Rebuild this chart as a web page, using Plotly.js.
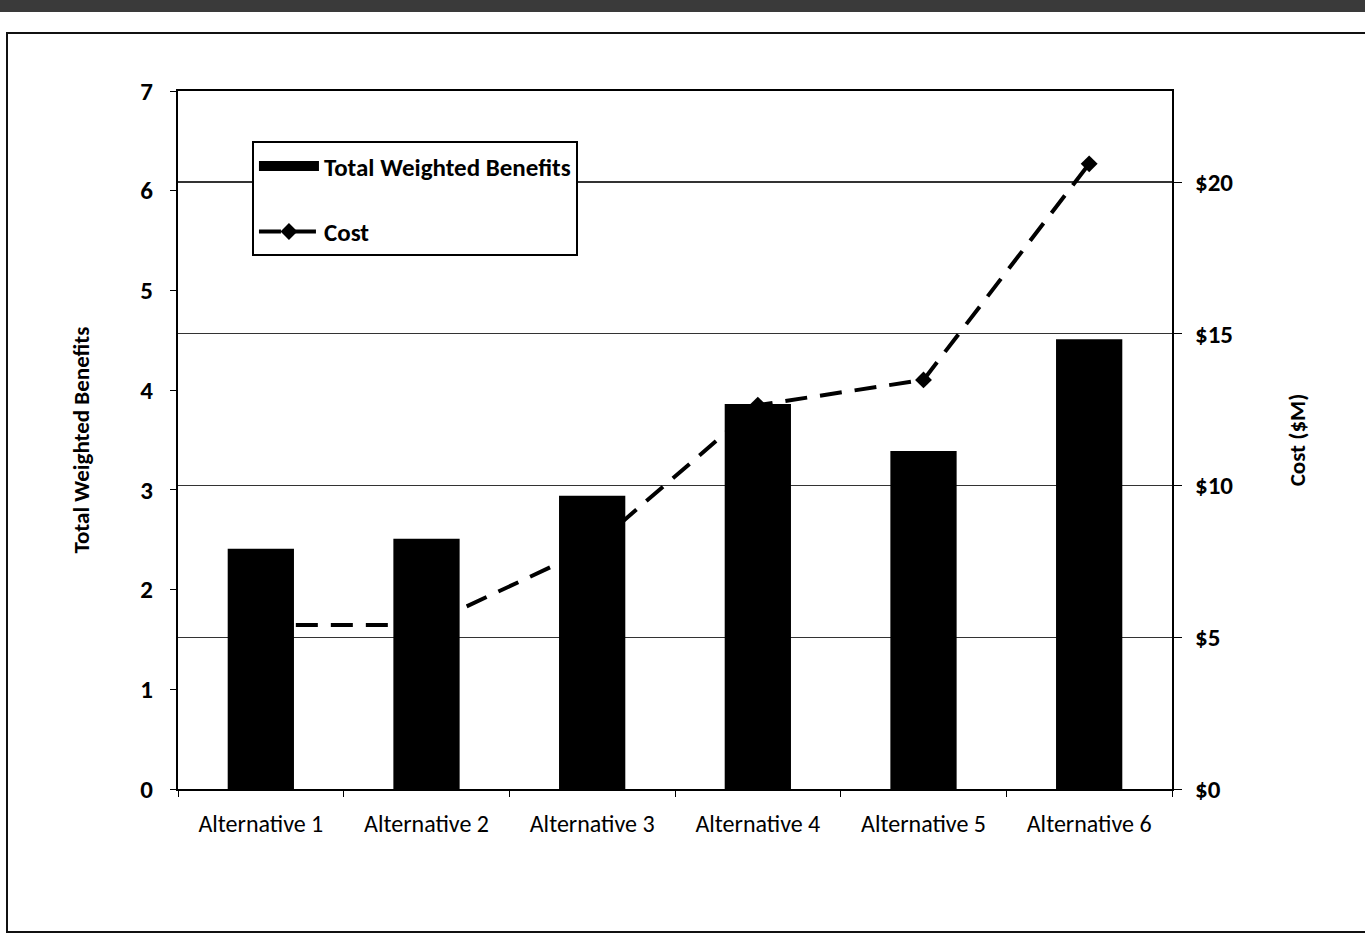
<!DOCTYPE html>
<html>
<head>
<meta charset="utf-8">
<script src="https://cdn.plot.ly/plotly-3.0.1.min.js"></script>
<style>
  html, body { margin:0; padding:0; background:#fff; width:1365px; height:936px; overflow:hidden; }
  #band { position:absolute; left:0; top:0; width:1365px; height:12px; background:#3a3a3a; }
  #frame { position:absolute; left:6px; top:32px; width:1380px; height:901px; border:2px solid #111; box-sizing:border-box; }
  #chart { position:absolute; left:0; top:0; width:1365px; height:936px; }
  #chart .legend .traces { opacity: 1 !important; }
</style>
</head>
<body>
<div id="band"></div>
<div id="frame"></div>
<div id="chart"></div>
<script>
const categories = ["Alternative 1", "Alternative 2", "Alternative 3", "Alternative 4", "Alternative 5", "Alternative 6"];
const benefits = [2.41, 2.51, 2.94, 3.86, 3.39, 4.51];
const costs = [5.4, 5.4, 7.95, 12.65, 13.48, 20.6];
const benefitTicks = [0, 1, 2, 3, 4, 5, 6, 7];
const costTicks = [0, 5, 10, 15, 20];
const costTickLabels = ["$0", "$5", "$10", "$15", "$20"];

const FONT = "Carlito, Lato, 'Open Sans', sans-serif";

const traces = [
  {
    type: "scatter", mode: "lines", name: "Total Weighted Benefits",
    x: categories, y: benefits, xaxis: "x", yaxis: "y2",
    visible: "legendonly", legendgroup: "a",
    line: { color: "#000", width: 11 }
  },
  {
    type: "scatter", mode: "lines+markers", name: "Cost",
    x: categories, y: costs, xaxis: "x", yaxis: "y",
    legendgroup: "b",
    line: { color: "#000", width: 4, dash: "22px,13px" },
    marker: { symbol: "diamond", size: 13, color: "#000" }
  },
  {
    type: "bar", name: "Total Weighted Benefits",
    x: categories, y: benefits, xaxis: "x", yaxis: "y2",
    showlegend: false,
    marker: { color: "#000" }
  }
];

const layout = {
  width: 1365, height: 936,
  paper_bgcolor: "rgba(0,0,0,0)", plot_bgcolor: "rgba(0,0,0,0)",
  margin: { l: 178, r: 193, t: 91, b: 147 },
  bargap: 0.6,
  showlegend: true,
  font: { family: FONT, color: "#000" },
  xaxis: {
    type: "category", tickson: "boundaries",
    showline: true, linecolor: "#000", linewidth: 2, mirror: true,
    ticks: "outside", ticklen: 6, tickcolor: "#000",
    ticklabelstandoff: 12,
    tickfont: { size: 24, family: FONT, color: "#000" },
    showgrid: false, zeroline: false
  },
  yaxis: {
    side: "right", range: [0, 23],
    tickvals: costTicks, ticktext: costTickLabels,
    showline: true, linecolor: "#000", linewidth: 2,
    ticks: "outside", ticklen: 8, tickcolor: "#000",
    ticklabelstandoff: 8,
    tickfont: { size: 25, family: FONT, color: "#000", weight: "bold" },
    showgrid: true, gridcolor: "#333", gridwidth: 1.3,
    zeroline: false,
    title: { text: "Cost ($M)", font: { size: 23, family: FONT, color: "#000", weight: "bold" }, standoff: 57 }
  },
  yaxis2: {
    side: "left", overlaying: "y", range: [0, 7],
    tickvals: benefitTicks,
    showline: true, linecolor: "#000", linewidth: 2,
    ticks: "outside", ticklen: 6, tickcolor: "#000",
    ticklabelstandoff: 12,
    tickfont: { size: 25, family: FONT, color: "#000", weight: "bold" },
    showgrid: false, zeroline: false,
    title: { text: "Total Weighted Benefits", font: { size: 23, family: FONT, color: "#000", weight: "bold" }, standoff: 44 }
  },
  legend: {
    x: 0.0744, y: 0.928, xanchor: "left", yanchor: "top",
    bgcolor: "#fff", bordercolor: "#000", borderwidth: 2,
    font: { size: 25, family: FONT, color: "#000", weight: "bold" },
    traceorder: "grouped", tracegroupgap: 30,
    itemwidth: 60
  }
};

Plotly.newPlot("chart", traces, layout, { displayModeBar: false, staticPlot: true });
</script>
</body>
</html>
